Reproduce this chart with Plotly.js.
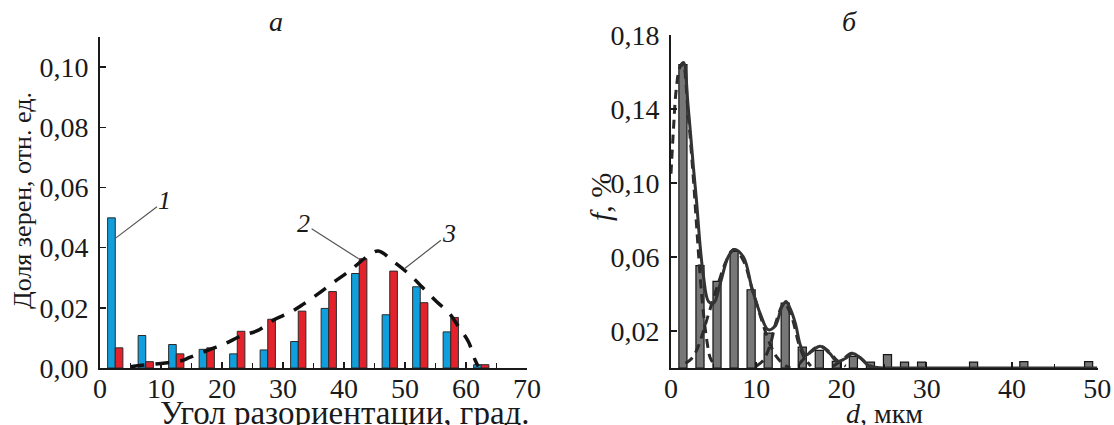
<!DOCTYPE html>
<html>
<head>
<meta charset="utf-8">
<script src="https://cdn.plot.ly/plotly-3.0.1.min.js"></script>
<style>html,body{margin:0;padding:0;background:#fff;}#chart{width:1114px;height:425px;}</style>
</head>
<body>
<div id="chart"></div>
<script>
// ---- Panel a: misorientation angle distribution ----
const angleBins = [2.5, 7.5, 12.5, 17.5, 22.5, 27.5, 32.5, 37.5, 42.5, 47.5, 52.5, 57.5, 62.5];
const series1 = [0.0499, 0.0108, 0.0078, 0.0062, 0.0047, 0.0060, 0.0088, 0.0198, 0.0314, 0.0177, 0.0270, 0.0120, 0.0011];
const series2 = [0.0067, 0.0021, 0.0047, 0.0067, 0.0122, 0.0162, 0.0189, 0.0254, 0.0363, 0.0322, 0.0217, 0.0168, 0.0011];
const curve3X = [5, 6.5, 10, 13.3, 14.7, 18.2, 20.4, 23.3, 25.8, 28.5, 31.2, 33.4, 35.8, 38.3, 41, 43.7, 45.6, 48.2, 50.9, 52.8, 55.2, 57.1, 58.8, 60.4, 61.5, 62];
const curve3Y = [0.0004, 0.0008, 0.0015, 0.0024, 0.0035, 0.0063, 0.0080, 0.0108, 0.0124, 0.0160, 0.0185, 0.0213, 0.0247, 0.0285, 0.0324, 0.0369, 0.0389, 0.0352, 0.0308, 0.0269, 0.0220, 0.0186, 0.0137, 0.0087, 0.0026, 0.0005];
const angleTicks = [0, 10, 20, 30, 40, 50, 60, 70];
const shareTicks = [0, 0.02, 0.04, 0.06, 0.08, 0.10];

// ---- Panel b: grain size distribution ----
const sizeBins = [1.4, 3.4, 5.4, 7.4, 9.4, 11.4, 13.4, 15.4, 17.4, 19.4, 21.4, 23.4, 25.4, 27.4, 29.4, 35.5, 41.4, 49.0];
const sizeFreq = [0.164, 0.0553, 0.0468, 0.063, 0.0423, 0.0189, 0.0351, 0.0113, 0.0095, 0.0036, 0.0063, 0.0032, 0.0072, 0.0032, 0.0032, 0.0032, 0.0034, 0.0034];
const envX = [1.2, 1.5, 2.0, 2.6, 3.0, 3.4, 3.8, 4.4, 5.0, 5.8, 6.7, 7.4, 8.5, 9.5, 10.5, 11.4, 12.2, 13.0, 13.5, 14.0, 14.6, 15.2, 15.8, 16.5, 17.5, 18.6, 19.5, 20.4, 21.3, 22.2, 23.2, 24.5, 30, 40, 50];
const envY = [0.163, 0.165, 0.142, 0.110, 0.090, 0.067, 0.050, 0.036, 0.035, 0.046, 0.060, 0.064, 0.060, 0.043, 0.029, 0.0207, 0.0225, 0.033, 0.036, 0.032, 0.024, 0.012, 0.007, 0.009, 0.0117, 0.008, 0.0035, 0.005, 0.0078, 0.0055, 0.0012, 0.0002, 0, 0, 0];
const comp1X = [0, 0.3, 0.6, 1.0, 1.4, 2.0, 2.6, 3.0, 3.4, 3.8, 4.2, 4.6, 5.2];
const comp1Y = [0.105, 0.13, 0.15, 0.162, 0.165, 0.138, 0.104, 0.077, 0.051, 0.030, 0.015, 0.0055, 0.001];
const comp2X = [1.7, 2.4, 3.0, 3.6, 4.2, 4.8, 5.5, 6.5, 7.4, 8.5, 9.5, 10.5, 11.2, 11.8, 12.4, 13.2, 14.0];
const comp2Y = [0.0025, 0.005, 0.0095, 0.017, 0.026, 0.035, 0.045, 0.058, 0.064, 0.058, 0.043, 0.028, 0.018, 0.011, 0.006, 0.002, 0.0];
const comp3X = [10, 10.8, 11.6, 12.4, 13.3, 14.2, 15.0, 15.6, 16.4];
const comp3Y = [0.001, 0.004, 0.012, 0.026, 0.035, 0.027, 0.013, 0.006, 0.001];
const comp4X = [15.0, 16.0, 17.0, 17.6, 18.5, 19.5, 20.5];
const comp4Y = [0.002, 0.007, 0.011, 0.0117, 0.009, 0.004, 0.001];
const comp5X = [19.0, 20.0, 21.2, 22.2, 23.2, 24.0];
const comp5Y = [0.001, 0.004, 0.008, 0.0055, 0.0015, 0.0];
const sizeTicks = [0, 10, 20, 30, 40, 50];
const freqTicks = [0.02, 0.06, 0.10, 0.14, 0.18];

const FONT = 'Liberation Serif, Times New Roman, serif';
const INK = '#1a1a1a';
const FS = 28;   // tick labels

const dashedComp = (x, y) => ({
  x: x, y: y, type: 'scatter', mode: 'lines', xaxis: 'x2', yaxis: 'y2',
  line: {color: '#2b2b2b', width: 3, dash: '9px,6px', shape: 'spline'},
  hoverinfo: 'skip', showlegend: false
});

const traces = [
  {x: angleBins, y: series1, type: 'bar', name: '1', xaxis: 'x', yaxis: 'y',
   marker: {color: '#109fdc', line: {color: '#2a2a2a', width: 1}}},
  {x: angleBins, y: series2, type: 'bar', name: '2', xaxis: 'x', yaxis: 'y',
   marker: {color: '#e3222b', line: {color: '#2a2a2a', width: 1}}},
  {x: curve3X, y: curve3Y, type: 'scatter', mode: 'lines', name: '3', xaxis: 'x', yaxis: 'y',
   line: {color: '#111', width: 3.5, dash: '14px,11px', shape: 'spline'}},
  {x: sizeBins, y: sizeFreq, type: 'bar', xaxis: 'x2', yaxis: 'y2', width: 0.95,
   marker: {color: '#777777', line: {color: '#151515', width: 1.2}}},
  dashedComp(comp1X, comp1Y),
  dashedComp(comp2X, comp2Y),
  dashedComp(comp3X, comp3Y),
  dashedComp(comp4X, comp4Y),
  dashedComp(comp5X, comp5Y),
  {x: envX, y: envY, type: 'scatter', mode: 'lines', xaxis: 'x2', yaxis: 'y2',
   line: {color: '#333', width: 3, shape: 'spline'}}
];

const axisBase = {
  showline: true, linewidth: 2, linecolor: INK, showgrid: false, zeroline: false,
  ticks: 'inside', ticklen: 6, tickwidth: 1.5, tickcolor: INK,
  tickfont: {family: FONT, size: FS, color: INK}, fixedrange: true
};

const txt = (text, x, y, angle, size) => ({
  text: text, xref: 'paper', yref: 'paper', x: x / 1114, y: 1 - y / 425,
  xanchor: 'center', yanchor: 'middle', showarrow: false, textangle: angle || 0,
  font: {family: FONT, size: size, color: INK}
});

const label = (text, x, y, ax, ay) => ({
  text: text, xref: 'x', yref: 'y', x: x, y: y, ax: ax, ay: ay, showarrow: true,
  arrowhead: 0, arrowwidth: 1.2, arrowcolor: '#555', standoff: 0,
  font: {family: FONT, size: 26, color: INK}
});

const layout = {
  width: 1114, height: 425,
  margin: {l: 0, r: 0, t: 0, b: 0},
  paper_bgcolor: '#fff', plot_bgcolor: '#fff',
  showlegend: false,
  separators: ', ',
  barmode: 'group', bargap: 0.5, bargroupgap: 0,
  font: {family: FONT, color: INK},
  xaxis: Object.assign({}, axisBase, {
    domain: [100/1114, 527/1114], range: [0, 70], anchor: 'y',
    tickvals: angleTicks, ticklabelstandoff: -6,
    minor: {dtick: 5, ticks: 'inside', ticklen: 5, tickwidth: 1.5, tickcolor: INK}
  }),
  yaxis: Object.assign({}, axisBase, {
    domain: [57/425, 388/425], range: [0, 0.11], anchor: 'x',
    tickvals: shareTicks, tickformat: '.2f', ticklabelstandoff: 4
  }),
  xaxis2: Object.assign({}, axisBase, {
    domain: [671/1114, 1098/1114], range: [0, 50.1], anchor: 'y2',
    tickvals: sizeTicks, ticklabelstandoff: -6,
    minor: {dtick: 5, ticks: 'inside', ticklen: 4, tickwidth: 1.5, tickcolor: INK}
  }),
  yaxis2: Object.assign({}, axisBase, {
    domain: [57/425, 390/425], range: [0, 0.18], anchor: 'x2',
    tickvals: freqTicks, tickformat: '.2f', ticklabelstandoff: 4
  }),
  annotations: [
    txt('<i>а</i>', 276, 22, 0, 28),
    txt('<i>б</i>', 849, 22, 0, 28),
    txt('Доля зерен, отн. ед.', 23, 201, -90, 26),
    txt('Угол разориентации, град.', 345, 413, 0, 33),
    txt('<i>f</i>, %', 600, 197, -90, 30),
    txt('<i>d</i>, мкм', 884, 413, 0, 28),
    label('<i>1</i>', 2.45, 0.043, 50, -38),
    label('<i>2</i>', 42.4, 0.0363, -55, -35),
    label('<i>3</i>', 49.9, 0.033, 45, -35)
  ]
};

Plotly.newPlot('chart', traces, layout, {staticPlot: true, displayModeBar: false});
</script>
</body>
</html>
